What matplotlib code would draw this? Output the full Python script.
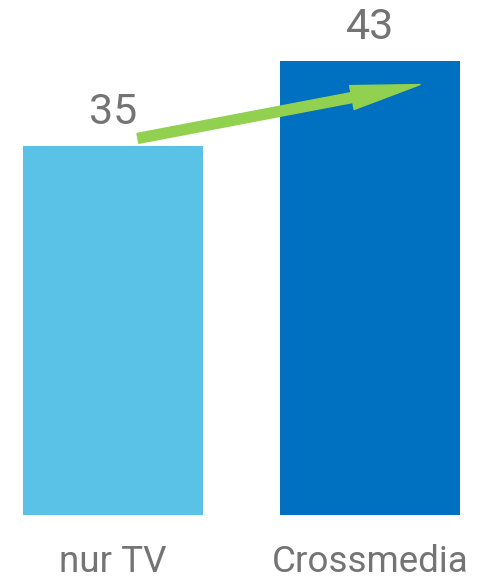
import matplotlib.pyplot as plt

categories = ["nur TV", "Crossmedia"]
values = [35, 43]
colors = ["#5bc2e7", "#0070c0"]

fig = plt.figure(figsize=(4.92, 5.81), dpi=100)
ax = fig.add_axes([0, 66 / 581, 1, 515 / 581])

x = [0, 1]
ax.bar(x, values, width=0.7, color=colors)
ax.set_xlim(-113 / 257, 379 / 257)
ax.set_ylim(0, 515 / 10.55)

txt = dict(color="#747474", family="Roboto", fontweight="normal")
for xi, v in zip(x, values):
    ax.text(xi, v + 2.1, str(v), ha="center", va="baseline", fontsize=31, **txt)

for xi, c in zip(x, categories):
    ax.text(xi, -5.4, c, ha="center", va="baseline", fontsize=26.5, **txt)

ax.set_xticks([])
ax.set_yticks([])
for s in ax.spines.values():
    s.set_visible(False)

# green arrow from first bar to second
ax.annotate("", xy=(1.195, 40.8), xytext=(0.097, 35.7),
            arrowprops=dict(arrowstyle="simple,head_length=5,head_width=1.75,tail_width=0.72",
                            mutation_scale=10, color="#92d050", shrinkA=0, shrinkB=0))

fig.savefig("out.png", dpi=100)
